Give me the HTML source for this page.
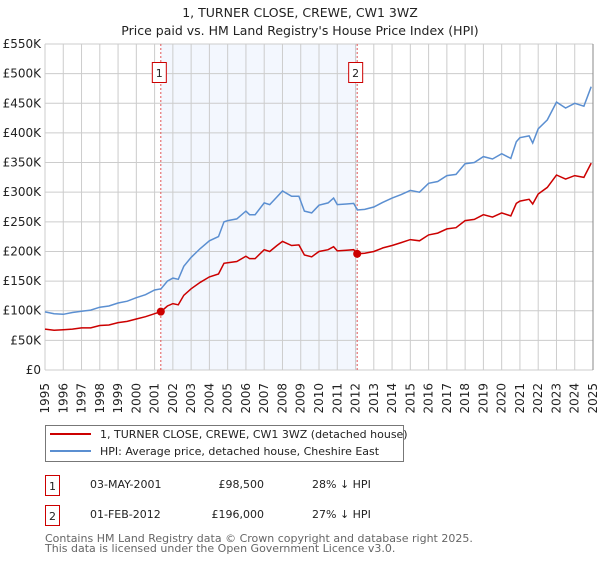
<!DOCTYPE html>
<html><head><meta charset="utf-8"><style>
body{margin:0;background:#fff;font-family:"DejaVu Sans","Liberation Sans",sans-serif;}
svg text{font-family:"DejaVu Sans","Liberation Sans",sans-serif;}
</style></head><body>
<svg id="chart" width="600" height="560" viewBox="0 0 600 560" xmlns="http://www.w3.org/2000/svg">
<text x="300" y="17" text-anchor="middle" font-size="12.5" fill="#222">1, TURNER CLOSE, CREWE, CW1 3WZ</text>
<text x="300" y="35" text-anchor="middle" font-size="12.5" fill="#222">Price paid vs. HM Land Registry's House Price Index (HPI)</text>
<g id="plot"></g>
<g>
<rect x="45.5" y="425.5" width="358" height="36" fill="#fff" stroke="#777"/>
<line x1="50" y1="434" x2="91" y2="434" stroke="#cc0000" stroke-width="2"/>
<text x="100" y="438" font-size="11" fill="#222">1, TURNER CLOSE, CREWE, CW1 3WZ (detached house)</text>
<line x1="50" y1="451" x2="91" y2="451" stroke="#5b8fd1" stroke-width="2"/>
<text x="100" y="455" font-size="11" fill="#222">HPI: Average price, detached house, Cheshire East</text>
</g>
<g font-size="11" fill="#222">
<rect x="45.5" y="475.5" width="14" height="20" fill="#fff" stroke="#cc0000"/>
<text x="52.5" y="490" text-anchor="middle">1</text>
<text x="90" y="488">03-MAY-2001</text>
<text x="264" y="488" text-anchor="end">£98,500</text>
<text x="312" y="488">28% ↓ HPI</text>
<rect x="45.5" y="505.5" width="14" height="20" fill="#fff" stroke="#cc0000"/>
<text x="52.5" y="520" text-anchor="middle">2</text>
<text x="90" y="518">01-FEB-2012</text>
<text x="264" y="518" text-anchor="end">£196,000</text>
<text x="312" y="518" text-anchor="end" dx="0"></text>
<text x="312" y="518">27% ↓ HPI</text>
</g>
<text x="45" y="542" font-size="11" fill="#666">Contains HM Land Registry data © Crown copyright and database right 2025.</text>
<text x="45" y="552" font-size="11" fill="#666">This data is licensed under the Open Government Licence v3.0.</text>
</svg>
<script>
const years=[1995,1995.5,1996,1996.5,1997,1997.5,1998,1998.5,1999,1999.5,2000,2000.5,2001,2001.35,2001.7,2002,2002.3,2002.6,2003,2003.5,2004,2004.5,2004.8,2005,2005.5,2006,2006.2,2006.5,2007,2007.3,2007.7,2008,2008.5,2008.9,2009.2,2009.6,2010,2010.5,2010.8,2011,2011.5,2011.9,2012.1,2012.5,2013,2013.5,2014,2014.5,2015,2015.5,2016,2016.5,2017,2017.5,2018,2018.5,2019,2019.5,2020,2020.5,2020.8,2021,2021.5,2021.7,2022,2022.5,2023,2023.5,2024,2024.5,2024.9];
const hpiValues=[98,95,94,97,99,101,106,108,113,116,122,127,135,137,150,155,153,175,190,205,218,225,250,252,255,268,262,262,282,279,292,302,293,293,268,265,278,282,290,279,280,281,270,271,275,283,290,296,303,300,315,318,328,330,348,350,360,356,365,357,385,392,395,383,407,422,452,442,450,445,478];
const priceValues=[69,67,68,69,71,71,75,76,80,82,86,90,95,98.5,108,112,110,126,137,148,157,162,180,181,183,192,188,188,203,200,210,217,210,211,194,191,200,203,208,201,202,203,196,197,200,206,210,215,220,218,228,231,238,240,252,254,262,258,265,260,281,285,288,280,297,308,329,322,328,325,349];
const saleYears=[2001.34,2012.09];
const salePrices=[98.5,196];
const yTicks=[0,50,100,150,200,250,300,350,400,450,500,550];
const yTickLabels=["£0","£50K","£100K","£150K","£200K","£250K","£300K","£350K","£400K","£450K","£500K","£550K"];
const xTicks=[1995,1996,1997,1998,1999,2000,2001,2002,2003,2004,2005,2006,2007,2008,2009,2010,2011,2012,2013,2014,2015,2016,2017,2018,2019,2020,2021,2022,2023,2024,2025];

const L=45,R=593,T=44,B=370;
const xs=y=>L+(y-1995)/30*(R-L);
const ys=v=>B-v/550*(B-T);
const NS="http://www.w3.org/2000/svg";
const g=document.getElementById('plot');
function mk(t,a){const e=document.createElementNS(NS,t);for(const k in a)e.setAttribute(k,a[k]);g.appendChild(e);return e;}
const band=mk('rect',{x:xs(saleYears[0]),y:T,width:xs(saleYears[1])-xs(saleYears[0]),height:B-T,fill:'#eef3fd',opacity:0.7});


yTicks.forEach((v,i)=>{
 const ln=mk('line',{x1:L,x2:R,y1:ys(v),y2:ys(v),stroke:'#cccccc','stroke-width':1});
 
 
 const t=mk('text',{x:L-4,y:ys(v)+4,'text-anchor':'end','font-size':12,fill:'#222'});
 t.textContent=yTickLabels[i];
 
 
});
xTicks.forEach(yr=>{
 const ln=mk('line',{x1:xs(yr),x2:xs(yr),y1:T,y2:B,stroke:'#cccccc','stroke-width':1});
 
 
 const t=mk('text',{x:0,y:0,'text-anchor':'end','font-size':12,fill:'#222',transform:`translate(${xs(yr)+4},383) rotate(-90)`});
 t.textContent=yr;
 
 
});
const edge=mk('line',{x1:R,x2:R,y1:T,y2:B,stroke:'#888','stroke-width':1});


saleYears.forEach((yr,i)=>{
 const ln=mk('line',{x1:xs(yr),x2:xs(yr),y1:T,y2:B,stroke:'#e05555','stroke-width':1,'stroke-dasharray':'2,2'});
 
 
 const r=mk('rect',{x:xs(yr)-8.5,y:62.5,width:14,height:20,fill:'#fff',stroke:'#cc0000'});
 
 
 const t=mk('text',{x:xs(yr)-1.5,y:77,'text-anchor':'middle','font-size':11,fill:'#222'});
 t.textContent=String(i+1);
 
 
});
function path(vals){return vals.map((v,i)=>(i?'L':'M')+xs(years[i]).toFixed(1)+','+ys(v).toFixed(1)).join('');}
const hp=mk('path',{d:path(hpiValues),fill:'none',stroke:'#5b8fd1','stroke-width':1.5});


const pp=mk('path',{d:path(priceValues),fill:'none',stroke:'#cc0000','stroke-width':1.5});


saleYears.forEach((yr,i)=>{
 const c=mk('circle',{cx:xs(yr),cy:ys(salePrices[i]),r:4,fill:'#cc0000'});
 
 
});
</script>
</body></html>
